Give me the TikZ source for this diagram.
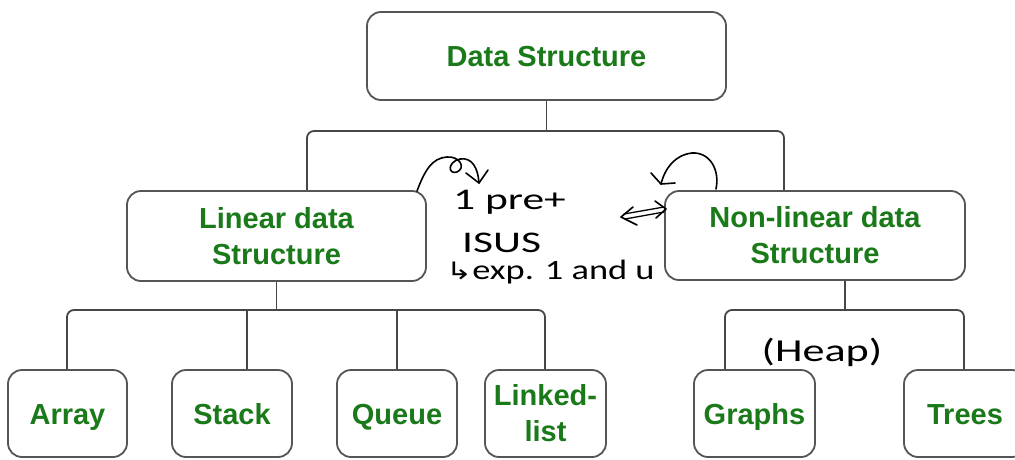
\documentclass[tikz,border=0pt]{standalone}
\usepackage{fontspec}
\usepackage{graphicx}
\setmainfont{Liberation Sans}
\newfontfamily\handfont{Carlito}
\newfontfamily\symfont{DejaVu Sans}
\usetikzlibrary{arrows.meta}
\definecolor{dsgreen}{RGB}{26,122,26}
\definecolor{boxline}{RGB}{85,85,85}
\definecolor{connline}{RGB}{70,70,70}
\tikzset{
  dsbox/.style={draw=boxline, line width=1.8pt, rounded corners=14pt, fill=white,
    text=dsgreen, font=\bfseries\fontsize{29}{36}\selectfont, align=center,
    inner sep=0pt},
  oneline/.style={text height=21pt, text depth=0pt},
  conn/.style={draw=connline, line width=1.8pt, rounded corners=7pt},
  hand/.style={line width=1.6pt, black, line cap=round, line join=round},
  handtext/.style={font=\handfont\fontsize{30}{32}\selectfont, text=black, inner sep=0pt, anchor=west}
}
\begin{document}
\begin{tikzpicture}[x=1pt,y=-1pt]
\useasboundingbox[fill=white] (0,0) rectangle (1015,459);
% boxes
\node[dsbox, oneline, minimum width=359pt, minimum height=88pt] (ds) at (546.5,56) {Data Structure};
\node[dsbox, minimum width=299pt, minimum height=90pt] (lin) at (276.5,236) {Linear data\\Structure};
\node[dsbox, minimum width=300pt, minimum height=89pt] (nl) at (815,235.5) {Non-linear data\\Structure};
\node[dsbox, oneline, minimum width=119pt, minimum height=87pt] (arr) at (67.5,413.5) {Array};
\node[dsbox, oneline, minimum width=120pt, minimum height=87pt] (stk) at (232,413.5) {Stack};
\node[dsbox, oneline, minimum width=120pt, minimum height=87pt] (que) at (397,413.5) {Queue};
\node[dsbox, minimum width=121pt, minimum height=87pt] (ll) at (545.5,413.5) {Linked-\\list};
\node[dsbox, oneline, minimum width=121pt, minimum height=87pt] (gr) at (754.5,413.5) {Graphs};
\node[dsbox, oneline, minimum width=122pt, minimum height=87pt] (tr) at (965,413.5) {Trees};
% bus coordinates
\coordinate (busL) at (307,131);
\coordinate (busR) at (784,131);
\coordinate (lb1) at (67,310);
\coordinate (sk) at (247,310);
\coordinate (lb4) at (545,310);
\coordinate (nd) at (845,310);
\coordinate (gb) at (725,310);
\coordinate (tb) at (964,310);
% connectors top level
\draw[conn] (ds.south) -- (ds.south |- busL);
\draw[conn] (lin.north -| busL) |- (busR) -- (nl.north -| busR);
% linear children
\draw[conn] (lin.south) -- (lin.south |- lb1);
\draw[conn] (arr.north -| lb1) |- (lb4) -- (ll.north -| lb4);
\draw[conn] (sk) -- (stk.north -| sk);
\draw[conn] (que.north |- lb1) -- (que.north);
% non-linear children
\draw[conn] (nl.south -| nd) -- (nd);
\draw[conn] (gr.north -| gb) |- (tb) -- (tr.north -| tb);
% handwritten notes
\node[handtext] (n1) at (453,202) {\scalebox{1.45}[1]{1 pre+}};
\node[handtext] (n2) at (462,243) {\scalebox{1.45}[1]{ISUS}};
\node[handtext, font=\handfont\fontsize{28}{30}\selectfont] (n3) at (446,272) {\scalebox{1.3}[1]{{\symfont\fontsize{24}{26}\selectfont ↳}exp. 1 and u}};
\node[font=\handfont\fontsize{32}{34}\selectfont, inner sep=0pt] (heap) at (822,352) {\scalebox{1.38}[1]{(Heap)}};
% hand-drawn curly arrow from Linear box
\coordinate (c1s) at (417,191);
\coordinate (c1e) at (479,183);
\draw[hand] (c1s) .. controls (425,170) and (432,158) .. (447,157)
  .. controls (460,156) and (466,168) .. (457,172)
  .. controls (448,175) and (447,162) .. (460,159)
  .. controls (472,157) and (478,168) .. (c1e);
\draw[hand] (466,173) -- (c1e) -- (488,170);
% hand-drawn curly arrow near Non-linear box
\coordinate (c2s) at (716,189);
\coordinate (c2e) at (661,184);
\draw[hand] (c2s) .. controls (720,170) and (710,152) .. (692,153)
  .. controls (675,155) and (665,168) .. (c2e);
\draw[hand] (651,173) -- (c2e) -- (675,183);
% double arrow
\coordinate (da) at (621,217);
\coordinate (db) at (666,209);
\draw[hand, line width=1.3pt] (624,214) -- (664,207);
\draw[hand, line width=1.3pt] (625,219) -- (664,212);
\draw[hand] (633,207) -- (da) -- (637,225);
\draw[hand] (655,201) -- (db) -- (656,218);
\end{tikzpicture}
\end{document}
